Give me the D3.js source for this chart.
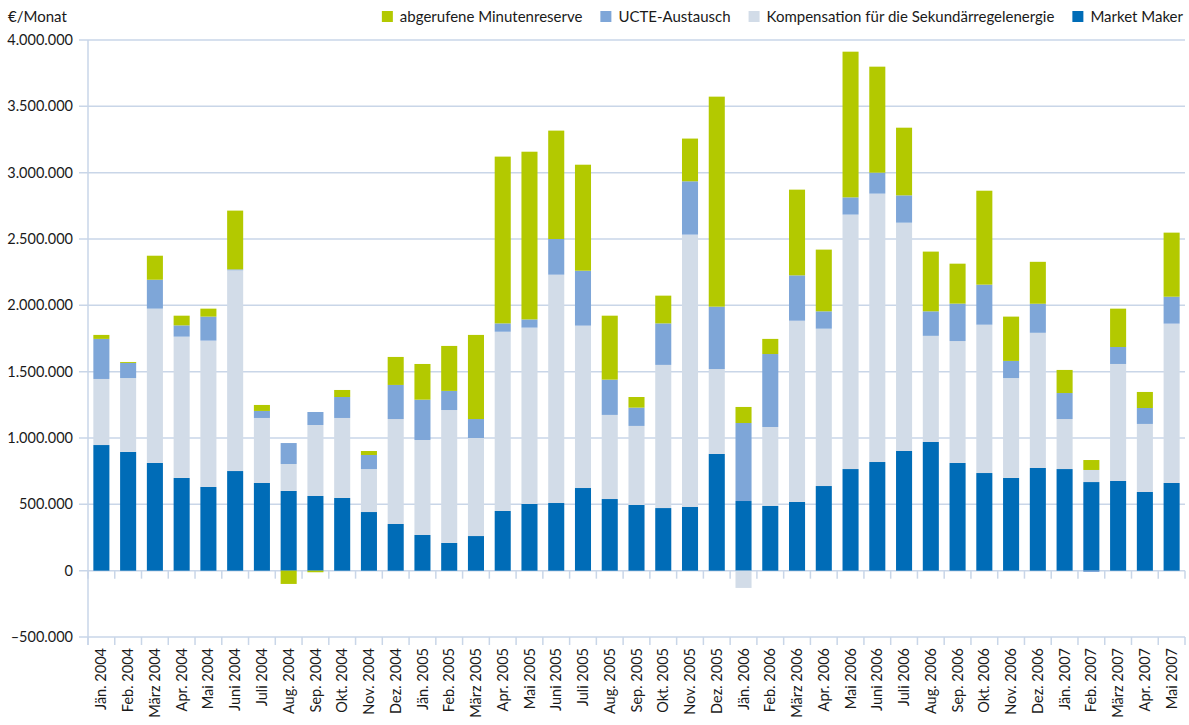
<!DOCTYPE html>
<html>
<head>
<meta charset="utf-8">
<title>Kosten Regelenergie</title>
<style>
  body { margin: 0; background: #fff; }
  svg { display: block; font-family: Lato, "Open Sans", sans-serif; }
  .lbl { fill: #1a1a1a; font-size: 14.5px; }
  .leg { fill: #1a1a1a; font-size: 15px; }
</style>
</head>
<body>
<svg></svg>
<script src="https://d3js.org/d3.v7.min.js"></script>
<script>
// month labels
const months = ["Jän. 2004","Feb. 2004","März 2004","Apr. 2004","Mai 2004","Juni 2004","Juli 2004","Aug. 2004","Sep. 2004","Okt. 2004","Nov. 2004","Dez. 2004",
  "Jän. 2005","Feb. 2005","März 2005","Apr. 2005","Mai 2005","Juni 2005","Juli 2005","Aug. 2005","Sep. 2005","Okt. 2005","Nov. 2005","Dez. 2005",
  "Jän. 2006","Feb. 2006","März 2006","Apr. 2006","Mai 2006","Juni 2006","Juli 2006","Aug. 2006","Sep. 2006","Okt. 2006","Nov. 2006","Dez. 2006",
  "Jän. 2007","Feb. 2007","März 2007","Apr. 2007","Mai 2007"];

// values in thousand € per month
const marketMaker = [947,895,812,699,631,751,661,601,563,548,442,352,
  269,209,261,450,503,510,623,540,495,472,480,880,
  525,488,518,638,766,819,902,970,812,736,699,774,
  766,668,676,593,661];
const kompensation = [498,557,1163,1065,1103,1513,490,203,535,603,324,791,
  716,1002,739,1351,1329,1721,1224,634,596,1079,2053,640,
  -130,595,1366,1186,1918,2023,1721,800,919,1118,753,1019,
  377,91,882,513,1201];
const ucte = [302,114,218,85,181,7,53,158,98,158,106,257,
  304,144,143,63,62,269,414,266,138,313,402,470,
  588,550,342,131,130,158,206,185,282,302,129,219,
  196,-10,128,120,203];
const minutenreserve = [30,7,181,73,60,443,45,-100,-12,53,30,211,
  269,339,634,1257,1264,817,799,482,80,209,322,1583,
  121,114,646,465,1098,799,510,450,301,708,334,316,
  174,75,289,121,483];

const yTicks = [-500000,0,500000,1000000,1500000,2000000,2500000,3000000,3500000,4000000];

const keys = ["mm","komp","ucte","min"];
const names = {mm:"Market Maker", komp:"Kompensation für die Sekundärregelenergie", ucte:"UCTE-Austausch", min:"abgerufene Minutenreserve"};
const colors = {mm:"#006cb7", komp:"#d2dce8", ucte:"#7ea6d8", min:"#b3c900"};

const table = months.map((m, i) => ({
  month: m,
  mm: marketMaker[i]*1000,
  komp: kompensation[i]*1000,
  ucte: ucte[i]*1000,
  min: minutenreserve[i]*1000
}));

let width = 1189, height = 725;
let svg = d3.select("svg").attr("width", width).attr("height", height);

let plotLeft = 88, plotRight = 1185, plotTop = 40, plotBottom = 637;

let x = d3.scaleBand().domain(months).range([plotLeft, plotRight]).paddingInner(0.4).paddingOuter(0.2);
let y = d3.scaleLinear().domain([-500000, 4000000]).range([plotBottom, plotTop]);

let de = d3.formatLocale({decimal: ",", thousands: ".", grouping: [3], currency: ["", " €"], minus: "\u2013"});
let fmt = de.format(",.0f");

const grid = "#c9d6e8";

// gridlines
svg.append("g").selectAll("line")
  .data(yTicks)
  .enter().append("line")
  .attr("x1", plotLeft - 9).attr("x2", plotRight)
  .attr("y1", d => y(d)).attr("y2", d => y(d))
  .attr("stroke", grid).attr("stroke-width", 1.5);

// y labels
svg.append("g").selectAll("text")
  .data(yTicks)
  .enter().append("text")
  .attr("class", "lbl")
  .attr("x", 73).attr("y", d => y(d))
  .attr("dy", "0.35em")
  .attr("text-anchor", "end")
  .text(d => fmt(d));

// bars
let series = d3.stack().keys(keys).offset(d3.stackOffsetDiverging)(table);

svg.append("g").selectAll("g")
  .data(series)
  .enter().append("g")
  .attr("fill", d => colors[d.key])
  .selectAll("rect")
  .data(d => d)
  .enter().append("rect")
  .attr("x", d => x(d.data.month))
  .attr("width", x.bandwidth())
  .attr("y", d => y(Math.max(d[0], d[1])))
  .attr("height", d => Math.abs(y(d[0]) - y(d[1])));

// axis lines and category ticks
svg.append("line")
  .attr("x1", plotLeft).attr("x2", plotLeft)
  .attr("y1", plotTop).attr("y2", plotBottom + 8)
  .attr("stroke", grid).attr("stroke-width", 1.5);

let step = x.step();
let edges = d3.range(months.length + 1).map(i => plotLeft + i * step);
[0, -500000].forEach(v => {
  svg.append("g").selectAll("line")
    .data(edges)
    .enter().append("line")
    .attr("x1", d => d).attr("x2", d => d)
    .attr("y1", y(v)).attr("y2", y(v) + 8)
    .attr("stroke", grid).attr("stroke-width", 1.5);
});

// x labels
svg.append("g").selectAll("text")
  .data(months)
  .enter().append("text")
  .attr("class", "lbl")
  .attr("transform", d => "translate(" + (x(d) + x.bandwidth()/2) + "," + (plotBottom + 11) + ") rotate(-90)")
  .attr("dy", "0.35em")
  .attr("text-anchor", "end")
  .text(d => d);

// unit
svg.append("text").attr("class", "leg")
  .attr("x", 8).attr("y", 22)
  .text("€/Monat");

// legend, laid out from the right
let legendKeys = ["min","ucte","komp","mm"];
let cursor = 1183;
let legend = svg.append("g");
legendKeys.slice().reverse().forEach(k => {
  let t = legend.append("text").attr("class", "leg")
    .attr("y", 22).text(names[k]);
  let w = t.node().getComputedTextLength();
  t.attr("x", cursor - w);
  legend.append("rect")
    .attr("x", cursor - w - 18).attr("y", 11)
    .attr("width", 11).attr("height", 11)
    .attr("fill", colors[k]);
  cursor = cursor - w - 36;
});
</script>
</body>
</html>
